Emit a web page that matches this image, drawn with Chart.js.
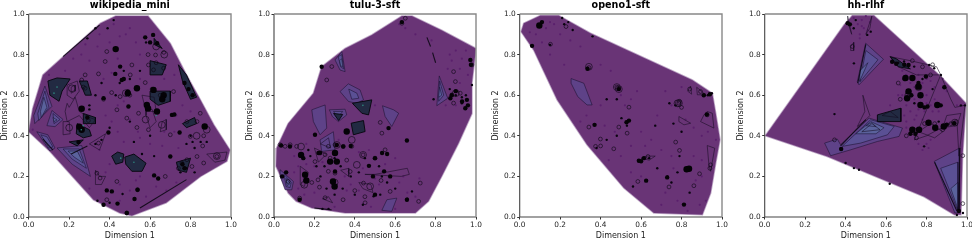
<!DOCTYPE html>
<html><head><meta charset="utf-8">
<style>html,body{margin:0;padding:0;background:#fff;width:972px;height:241px;overflow:hidden}canvas{position:absolute;top:0;filter:blur(.3px)}</style>
<script src="https://cdn.jsdelivr.net/npm/chart.js@4"></script></head>
<body>
<canvas id="c0" width="240" height="241" style="left:0px"></canvas>
<canvas id="c1" width="240" height="241" style="left:245px"></canvas>
<canvas id="c2" width="240" height="241" style="left:490.6px"></canvas>
<canvas id="c3" width="240" height="241" style="left:736px"></canvas>
<script>
const panelTitles=["wikipedia_mini","tulu-3-sft","openo1-sft","hh-rlhf"];
const tickValues=[0,0.2,0.4,0.6,0.8,1];
const xLabel="Dimension 1", yLabel="Dimension 2";

/* wikipedia_mini */
const wikiHull=[[0,.42],[.02,.535],[.07,.70],[.355,.955],[.43,.99],[.59,.99],[.70,.855],[.78,.70],[.85,.575],[.915,.455],[.995,.33],[.98,.275],[.85,.2],[.68,.07],[.51,.006],[.45,.02],[.32,.085],[.105,.323]];
const wikiLevel1=[[[.08,.645],[.025,.50],[.03,.46],[.115,.545]],[[.115,.525],[.17,.48],[.13,.445],[.09,.45]],[[.04,.42],[.095,.405],[.13,.34],[.105,.325]],[[.14,.34],[.262,.352],[.305,.2],[.215,.26]]];
const wikiLevel2=[[[.08,.62],[.045,.51],[.05,.475],[.10,.54]],[[.17,.335],[.25,.335],[.285,.24],[.215,.285]],[[.06,.405],[.09,.395],[.12,.345],[.10,.34]],[[.12,.51],[.155,.48],[.125,.46]]];
const wikiLevel3=[[[.075,.59],[.058,.52],[.062,.49],[.09,.54]],[[.195,.325],[.24,.325],[.27,.265],[.225,.295]],[[.12,.49],[.14,.478],[.125,.47]]];
const wikiDark=[[[.095,.67],[.14,.685],[.205,.68],[.165,.62],[.15,.57],[.105,.6]],[[.41,.30],[.44,.32],[.47,.31],[.465,.27],[.43,.26]],[[.475,.295],[.52,.31],[.58,.265],[.56,.225],[.51,.225],[.48,.26]],[[.24,.46],[.3,.43],[.31,.40],[.27,.39],[.235,.41]],[[.6,.62],[.7,.62],[.7,.57],[.64,.55],[.6,.58]],[[.74,.75],[.78,.7],[.83,.59],[.80,.58],[.76,.67]],[[.76,.46],[.82,.49],[.83,.46],[.78,.44]],[[.25,.67],[.29,.67],[.31,.6],[.28,.6]],[[.27,.51],[.33,.49],[.33,.46],[.27,.46]],[[.62,.88],[.66,.83],[.62,.85]],[[.6,.77],[.68,.75],[.66,.7],[.6,.7]],[[.73,.27],[.8,.29],[.78,.22],[.74,.23]],[[.2,.37],[.27,.38],[.24,.35]]];
const wikiLines=[[[.19,.56],[.2,.54],[.23,.59],[.25,.52],[.3,.49],[.33,.48],[.3,.44],[.25,.5],[.19,.47],[.18,.52]],[[.17,.47],[.2,.47],[.205,.41],[.17,.405]],[[.58,.5],[.6,.44],[.63,.47],[.61,.53],[.58,.53]],[[.66,.47],[.68,.48],[.68,.43],[.65,.42]],[[.33,.23],[.35,.2],[.38,.2],[.36,.16],[.33,.16]],[[.88,.31],[.98,.32],[.97,.28],[.92,.27]],[[.19,.65],[.24,.67],[.25,.62],[.22,.58],[.19,.6]],[[.21,.64],[.23,.65],[.23,.62],[.21,.61]],[[.3,.36],[.38,.41],[.35,.33]],[[.56,.6],[.62,.59],[.63,.52],[.58,.52]]];
const wikiEdges=[[[.17,.79],[.35,.945]],[[.55,.044],[.78,.184]],[[.07,.385],[.12,.33]],[[.21,.31],[.29,.35]]];
const wikiRings=[[.386,.815],[.51,.749],[.592,.749],[.617,.725],[.667,.733],[.668,.811],[.627,.798],[.378,.766],[.502,.7],[.279,.7],[.345,.705],[.262,.675],[.279,.634],[.41,.613],[.452,.593],[.576,.662],[.716,.618],[.436,.528],[.543,.511],[.485,.487],[.535,.441],[.592,.43],[.70,.405],[.799,.397],[.832,.47],[.782,.47],[.848,.511],[.345,.364],[.436,.175],[.675,.2],[.757,.266],[.782,.282],[.832,.298],[.807,.249],[.865,.266],[.93,.298],[.353,.192],[.337,.216],[.386,.085],[.485,.02],[.538,.134],[.865,.4],[.74,.24],[.295,.475],[.86,.35],[.61,.63],[.5,.6],[.59,.8],[.63,.76],[.37,.58],[.65,.6],[.27,.64]];
const wikiBigRings=[[.213,.634],[.658,.454],[.2,.44],[.93,.3],[.578,.48],[.63,.84],[.67,.8],[.48,.61],[.88,.43],[.83,.4]];
const wikiBlobsLarge=[[.43,.827],[.634,.52],[.584,.552],[.59,.535],[.617,.626],[.667,.60],[.66,.58],[.262,.43],[.25,.445],[.262,.533],[.87,.446],[.535,.634],[.49,.61]];
const wikiBlobsMed=[[.576,.885],[.452,.741],[.428,.705],[.46,.675],[.47,.68],[.37,.585],[.49,.618],[.493,.544],[.708,.503],[.72,.505],[.746,.416],[.394,.416],[.246,.369],[.386,.131],[.411,.126],[.538,.134],[.523,.089],[.439,.066],[.62,.205],[.64,.19],[.70,.298],[.615,.897],[.635,.856],[.485,.02],[.6,.86],[.77,.66],[.79,.63],[.81,.6],[.29,.49],[.76,.26],[.77,.24],[.37,.06]];
const wikiDots=[[.47,.72],[.5,.68],[.55,.72],[.3,.55],[.33,.6],[.43,.6],[.45,.66],[.464,.113],[.4,.07],[.34,.08],[.75,.22],[.78,.24],[.82,.22],[.6,.4],[.52,.37],[.82,.34],[.36,.66],[.8,.4],[.4,.44],[.62,.3],[.56,.31],[.3,.53],[.58,.86],[.42,.97],[.39,.93],[.33,.93],[.29,.88],[.71,.5],[.85,.37],[.88,.37],[.78,.36],[.81,.37],[.36,.38],[.33,.36],[.5,.47]];
const wikiTeal=[[.14,.64],[.125,.61],[.26,.43],[.52,.27],[.455,.29],[.63,.5],[.27,.45]];
const wikiSpecks=[[.35,.9],[.42,.95],[.45,.89],[.5,.93],[.53,.86],[.28,.85],[.22,.78],[.18,.72],[.3,.77],[.37,.68],[.44,.78],[.55,.8],[.67,.68],[.72,.7],[.7,.6],[.76,.55],[.73,.5],[.8,.52],[.48,.6],[.44,.55],[.38,.5],[.5,.48],[.44,.42],[.54,.42],[.6,.36],[.66,.35],[.74,.34],[.4,.26],[.3,.14],[.45,.16],[.58,.1],[.63,.15],[.68,.13],[.73,.17],[.02,.43],[.1,.7],[.5,.3],[.35,.33],[.48,.9],[.4,.86],[.34,.84],[.26,.8],[.41,.71],[.55,.68],[.47,.57],[.41,.47],[.47,.37],[.55,.39],[.67,.42],[.72,.42],[.53,.18],[.5,.13],[.55,.2],[.45,.08],[.38,.22]];

/* tulu-3-sft */
const tuluHull=[[.013,.34],[.01,.25],[.07,.118],[.11,.077],[.187,.044],[.352,.02],[.70,.02],[.765,.077],[.83,.2],[.914,.364],[.98,.51],[.98,.66],[1,.83],[.83,.92],[.683,.99],[.633,.99],[.484,.897],[.352,.83],[.236,.74],[.195,.61],[.07,.46]];
const tuluLevel1=[[[.327,.618],[.368,.656],[.426,.626],[.443,.577],[.41,.56],[.369,.569]],[[.187,.528],[.253,.552],[.261,.438],[.228,.405],[.195,.47]],[[.274,.528],[.352,.531],[.36,.503],[.319,.47],[.289,.495]],[[.818,.695],[.86,.585],[.806,.548]],[[.537,.548],[.592,.528],[.617,.511],[.583,.446],[.55,.495]],[[.228,.38],[.294,.42],[.302,.331],[.236,.323]],[[.559,.085],[.608,.093],[.583,.028],[.534,.033]],[[.03,.233],[.096,.175],[.088,.134],[.055,.134],[.03,.2]],[[.302,.774],[.336,.815],[.352,.716],[.327,.724]]];
const tuluLevel2=[[[.37,.63],[.41,.61],[.42,.585],[.385,.58]],[[.318,.79],[.335,.80],[.345,.73],[.33,.74]],[[.82,.67],[.84,.6],[.815,.57]],[[.05,.21],[.085,.17],[.08,.145],[.06,.15]],[[.295,.52],[.34,.52],[.315,.49]]];
const tuluLevel3=[[[.325,.77],[.335,.78],[.34,.74],[.33,.745]],[[.06,.19],[.08,.165],[.065,.155]],[[.82,.64],[.83,.6],[.815,.59]]];
const tuluDark=[[[.388,.56],[.484,.577],[.468,.503],[.435,.511]],[[.382,.462],[.443,.475],[.451,.421],[.393,.405]],[[.295,.51],[.34,.505],[.32,.475]]];
const tuluLines=[[[.45,.21],[.5,.21],[.66,.24],[.67,.21],[.63,.2]],[[.42,.17],[.48,.16],[.49,.12],[.44,.14]],[[.2,.34],[.26,.31],[.22,.27]],[[.13,.25],[.17,.22],[.15,.15],[.13,.16]],[[.33,.23],[.37,.24],[.37,.2]],[[.24,.09],[.27,.1],[.29,.07]],[[.23,.36],[.27,.39],[.28,.34]]];
const tuluEdges=[[[.2,.044],[.285,.035]],[[.757,.885],[.775,.84]],[[.785,.81],[.80,.76]]];
const tuluRings=[[.03,.356],[.055,.348],[.08,.356],[.112,.348],[.228,.315],[.261,.675],[.286,.741],[.269,.348],[.302,.356],[.344,.348],[.385,.348],[.253,.307],[.269,.225],[.302,.216],[.187,.17],[.218,.183],[.225,.147],[.253,.095],[.342,.085],[.377,.224],[.443,.167],[.575,.126],[.716,.077],[.724,.167],[.127,.093],[.526,.466],[.534,.413],[.889,.716],[.898,.667],[.922,.61],[.881,.602],[.889,.561],[.633,.954],[.65,.979],[.98,.749],[.55,.331],[.203,.273],[.36,.28],[.07,.175],[.4,.13],[.451,.07],[.53,.18],[.441,.306],[.5,.29],[.16,.18],[.3,.15],[.45,.1],[.278,.29]];
const tuluBigRings=[[.41,.257],[.15,.159],[.476,.151],[.385,.38],[.441,.306],[.311,.355],[.134,.347],[.9,.61],[.3,.17]];
const tuluBlobsLarge=[[.154,.208],[.134,.306],[.292,.175],[.30,.15],[.302,.315],[.278,.273],[.311,.273],[.36,.421],[.16,.18]];
const tuluBlobsMed=[[.203,.405],[.22,.315],[.228,.316],[.47,.252],[.49,.2],[.575,.2],[.545,.225],[.658,.377],[.658,.085],[.567,.438],[.5,.29],[.535,.315],[.56,.31],[.972,.774],[.873,.585],[.931,.569],[.955,.577],[.947,.536],[.145,.29],[.633,.96],[.236,.74],[.38,.35],[.342,.347],[.035,.352],[.079,.347],[.311,.355],[.302,.224],[.127,.085],[.5,.11],[.975,.75],[.9,.62],[.88,.6],[.96,.55],[.04,.2],[.06,.22]];
const tuluDots=[[.534,.2],[.578,.2],[.526,.11],[.493,.102],[.38,.2],[.42,.22],[.45,.29],[.52,.25],[.56,.17],[.683,.126],[.9,.6],[.87,.63],[.98,.65],[.79,.58],[.33,.25],[.3,.29],[.25,.25],[.18,.3],[.66,.09],[.6,.14],[.44,.06],[.4,.11],[.3,.11],[.26,.14],[.23,.2],[.24,.04],[.27,.04],[.17,.33],[.21,.25],[.34,.14],[.93,.56],[.95,.6],[.93,.59]];
const tuluSpecks=[[.9,.82],[.93,.78],[.95,.82],[.88,.77],[.86,.73],[.92,.66],[.96,.7],[.9,.55],[.85,.55],[.1,.3],[.1,.22],[.2,.25],[.2,.12],[.15,.11],[.3,.05],[.36,.13],[.42,.32],[.47,.33],[.5,.19],[.55,.26],[.62,.17],[.7,.1],[.72,.19],[.66,.12],[.32,.38],[.27,.4],[.16,.36],[.65,.93],[.62,.95],[.7,.9],[.47,.54],[.5,.55],[.56,.07],[.48,.05],[.38,.16],[.78,.87],[.12,.25],[.16,.26],[.24,.27],[.35,.2],[.44,.24],[.6,.29],[.64,.2],[.52,.16],[.6,.04],[.42,.13],[.12,.14],[.92,.73],[.87,.8]];

/* openo1-sft */
const openHull=[[.007,.913],[.02,.954],[.102,.992],[.193,.992],[.35,.905],[.853,.675],[.952,.61],[.969,.511],[.99,.38],[.969,.266],[.944,.118],[.903,.011],[.663,.02],[.515,.143],[.333,.356],[.185,.577],[.069,.823]];
const openLevel1=[[[.254,.682],[.317,.659],[.358,.552],[.333,.552],[.287,.593],[.254,.659]]];
const openLevel2=[];
const openLevel3=[];
const openDark=[];
const openLines=[[[.83,.62],[.845,.645],[.85,.605]],[[.875,.639],[.919,.602],[.878,.602]],[[.927,.52],[.952,.511],[.96,.438],[.894,.47],[.911,.503]],[[.927,.352],[.964,.339],[.944,.225],[.936,.249]],[[.787,.495],[.845,.462],[.812,.454],[.787,.47]],[[.6,.29],[.63,.3],[.67,.3],[.64,.28]]];
const openEdges=[];
const openRings=[[.342,.736],[.49,.634],[.787,.561],[.927,.503],[.54,.541],[.342,.443],[.49,.443],[.531,.413],[.399,.384],[.375,.348],[.465,.336],[.771,.369],[.79,.328],[.634,.298],[.584,.175],[.738,.148],[.861,.154],[.889,.213],[.944,.257],[.229,.938],[.152,.851],[.84,.63],[.894,.618],[.79,.57],[.48,.64],[.4,.35],[.8,.54],[.94,.24]];
const openBigRings=[[.342,.74],[.49,.63],[.787,.561],[.48,.64],[.78,.56]];
const openBlobsLarge=[[.097,.943],[.837,.238],[.825,.235]];
const openBlobsMed=[[.061,.843],[.37,.454],[.528,.467],[.54,.475],[.625,.179],[.589,.277],[.6,.275],[.614,.29],[.729,.195],[.812,.061],[.335,.73],[.925,.505],[.49,.63],[.11,.96],[.91,.6],[.94,.605]];
const openDots=[[.262,.921],[.503,.487],[.15,.848],[.22,.95],[.38,.34],[.43,.38],[.48,.4],[.64,.29],[.68,.24],[.73,.2],[.75,.17],[.78,.22],[.84,.12],[.43,.58],[.48,.58],[.67,.45],[.76,.46],[.8,.42],[.79,.3],[.56,.15],[.95,.61],[.93,.6],[.36,.89],[.24,.96],[.21,.98],[.74,.56],[.77,.55],[.53,.45]];
const openSpecks=[[.05,.91],[.13,.93],[.17,.95],[.25,.87],[.3,.84],[.15,.8],[.22,.75],[.4,.75],[.45,.72],[.55,.58],[.58,.62],[.4,.55],[.33,.5],[.3,.47],[.42,.45],[.47,.42],[.55,.35],[.6,.42],[.65,.38],[.7,.33],[.68,.5],[.75,.55],[.72,.62],[.8,.64],[.9,.4],[.93,.42],[.97,.38],[.86,.3],[.9,.2],[.78,.08],[.83,.03],[.89,.06],[.72,.12],[.6,.2],[.55,.22],[.5,.3],[.44,.28],[.82,.48],[.7,.06],[.08,.9],[.15,.96],[.2,.9],[.11,.86],[.5,.6],[.52,.55],[.62,.35],[.75,.3],[.9,.28],[.86,.44],[.76,.24],[.87,.18],[.92,.08]];

/* hh-rlhf */
const hhHull=[[.003,.4],[.392,.946],[.433,.992],[.54,.992],[.673,.872],[.871,.692],[.995,.56],[.978,.298],[.97,.011],[.937,.011],[.788,.1],[.309,.298]];
const hhLevel1=[[[.296,.364],[.359,.384],[.375,.356],[.516,.487],[.681,.438],[.664,.397],[.557,.372],[.425,.331],[.326,.302]],[[.499,.856],[.587,.777],[.466,.651],[.458,.667]],[[.838,.274],[.962,.339],[.962,.02],[.94,.02]]];
const hhLevel2=[[[.383,.348],[.524,.479],[.64,.446],[.607,.405],[.474,.364]],[[.5,.82],[.56,.775],[.47,.665]],[[.87,.24],[.955,.27],[.955,.03]]];
const hhLevel3=[[[.45,.41],[.525,.47],[.59,.44],[.55,.41]],[[.47,.72],[.51,.76],[.47,.67]],[[.92,.14],[.955,.17],[.955,.04]],[[.5,.45],[.53,.465],[.55,.445]]];
const hhDark=[[[.557,.503],[.673,.536],[.673,.47],[.557,.47]],[[.62,.79],[.65,.78],[.72,.73],[.66,.74]]];
const hhLines=[[[.458,.446],[.495,.52],[.485,.6],[.52,.5],[.49,.47]],[[.425,.84],[.44,.86],[.44,.82],[.425,.82]],[[.41,.99],[.43,.9],[.42,.93],[.41,.97]],[[.52,.93],[.53,.99],[.5,.9]],[[.62,.79],[.72,.77],[.85,.74],[.87,.7],[.75,.7],[.66,.74]],[[.87,.7],[.92,.58],[.94,.54],[.99,.55],[.96,.3],[.95,.48],[.8,.4],[.74,.38]],[[.9,.5],[.97,.51],[.95,.45],[.88,.44]],[[.76,.42],[.84,.39],[.88,.42],[.82,.46]],[[.48,.42],[.53,.46],[.57,.43]],[[.58,.5],[.62,.52],[.66,.49]]];
const hhEdges=[[[.95,.03],[.84,.27]],[[.96,.02],[.965,.34]],[[.375,.35],[.5,.48]],[[.46,.66],[.5,.85]]];
const hhRings=[[.433,.84],[.979,.066],[.979,.302],[.73,.77],[.78,.74],[.83,.75],[.69,.68],[.67,.58],[.84,.46],[.92,.46],[.88,.43],[.75,.39],[.66,.66],[.345,.38],[.82,.7],[.79,.46],[.7,.4]];
const hhBigRings=[[.94,.465],[.74,.42],[.76,.64],[.71,.6]];
const hhBlobsLarge=[[.711,.618],[.76,.642],[.77,.60],[.704,.585],[.696,.685],[.73,.685],[.853,.552],[.77,.552],[.81,.464],[.73,.43],[.763,.43],[.843,.44],[.885,.446]];
const hhBlobsMed=[[.421,.949],[.63,.765],[.65,.755],[.805,.544],[.888,.639],[.9,.455],[.937,.462],[.797,.692],[.378,.335],[.96,.03],[.41,.955],[.69,.75],[.711,.749],[.87,.55],[.76,.66],[.725,.6],[.79,.54],[.745,.41],[.72,.41]];
const hhDots=[[.466,.233],[.441,.241],[.4,.266],[.618,.164],[.345,.507],[.813,.749],[.838,.733],[.739,.741],[.689,.766],[.871,.7],[.788,.348],[.507,.897],[.524,.913],[.441,.757],[.83,.63],[.78,.68],[.74,.56],[.86,.47],[.66,.76],[.97,.55],[.99,.55],[.95,.01],[.98,.02],[.44,.93],[.45,.97]];
const hhSpecks=[[.46,.95],[.48,.97],[.49,.93],[.47,.9],[.52,.96],[.5,.99],[.68,.72],[.7,.7],[.72,.66],[.76,.7],[.68,.6],[.7,.55],[.66,.52],[.72,.52],[.75,.5],[.79,.52],[.82,.55],[.84,.58],[.8,.6],[.84,.64],[.72,.62],[.78,.66],[.8,.68],[.74,.48],[.7,.47],[.78,.48],[.76,.36],[.8,.36],[.81,.34],[.7,.44],[.66,.6],[.62,.55],[.88,.68],[.9,.62],[.95,.55],[.74,.58],[.8,.56],[.83,.52],[.86,.52],[.69,.5],[.76,.53],[.82,.67],[.74,.64],[.67,.65],[.48,.94],[.44,.98],[.82,.38],[.78,.33],[.47,.88],[.51,.92]];

const panels=[
 {hull:wikiHull,l1:wikiLevel1,l2:wikiLevel2,l3:wikiLevel3,dark:wikiDark,lines:wikiLines,edges:wikiEdges,rings:wikiRings,big:wikiBigRings,large:wikiBlobsLarge,med:wikiBlobsMed,dots:wikiDots,specks:wikiSpecks,teal:wikiTeal,area:28.7},
 {hull:tuluHull,l1:tuluLevel1,l2:tuluLevel2,l3:tuluLevel3,dark:tuluDark,lines:tuluLines,edges:tuluEdges,rings:tuluRings,big:tuluBigRings,large:tuluBlobsLarge,med:tuluBlobsMed,dots:tuluDots,specks:tuluSpecks,teal:[[.44,.55]],area:29},
 {hull:openHull,l1:openLevel1,l2:openLevel2,l3:openLevel3,dark:openDark,lines:openLines,edges:openEdges,rings:openRings,big:openBigRings,large:openBlobsLarge,med:openBlobsMed,dots:openDots,specks:openSpecks,teal:[],area:28.7},
 {hull:hhHull,l1:hhLevel1,l2:hhLevel2,l3:hhLevel3,dark:hhDark,lines:hhLines,edges:hhEdges,rings:hhRings,big:hhBigRings,large:hhBlobsLarge,med:hhBlobsMed,dots:hhDots,specks:hhSpecks,teal:[],area:28.7}
];

const closed=a=>a.concat([a[0]]);
function poly(pts,fill,line,w){return {data:closed(pts),showLine:true,pointRadius:0,fill:fill?'shape':false,backgroundColor:fill||'transparent',borderColor:line,borderWidth:w,tension:0};}
function pts(d,r,fill,line,w){return {data:d,showLine:false,pointRadius:r,pointBackgroundColor:fill,pointBorderColor:line,pointBorderWidth:w};}

const frame={id:'frame',afterDatasetsDraw(c){const a=c.chartArea,x=c.ctx;x.save();
 x.strokeStyle='#444';x.lineWidth=1.1;x.beginPath();x.moveTo(a.left,a.top);x.lineTo(a.left,a.bottom);x.lineTo(a.right,a.bottom);x.stroke();
 x.strokeStyle='#888';x.lineWidth=1.4;x.beginPath();x.moveTo(a.left,a.top);x.lineTo(a.right,a.top);x.lineTo(a.right,a.bottom);x.stroke();x.restore();}};

panels.forEach((p,i)=>{
 const ds=[];
 ds.push(poly(p.hull,'#693476','rgba(120,70,135,.45)',1.6));
 ds.push(pts(p.specks,1.1,'rgba(85,25,105,.75)','transparent',0));
 p.l1.forEach(s=>ds.push(poly(s,'#5e4288','rgba(20,12,40,.85)',.6)));
 p.l2.forEach(s=>ds.push(poly(s,'#5a5094','rgba(20,12,40,.85)',.6)));
 p.l3.forEach(s=>ds.push(poly(s,'#5a629c','rgba(20,12,40,.85)',.6)));
 p.dark.forEach(s=>ds.push(poly(s,'#222a42','rgba(6,6,12,.9)',1)));
 p.lines.forEach(s=>ds.push(poly(s,null,'rgba(18,10,30,.9)',.6)));
 p.edges.forEach(s=>ds.push({data:s,showLine:true,pointRadius:0,fill:false,borderColor:'rgba(12,8,20,.9)',borderWidth:1.1}));
 ds.push(pts(p.rings,1.9,'transparent','rgba(15,8,22,.9)',.7));
 ds.push(pts(p.big,3.4,'transparent','rgba(15,8,22,.9)',.7));
 ds.push(pts(p.dots,1.2,'#0a0410','#0a0410',0));
 ds.push(pts(p.med,2.2,'#060308','#060308',0));
 ds.push(pts(p.large,3.2,'#040206','#040206',0));
 ds.push(pts(p.teal,.8,'#2f8a80','#2f8a80',0));
 ds.forEach((d,k)=>{d.order=ds.length-k;});
 const tick={color:'#262626',font:{family:'DejaVu Sans',size:7.4},padding:1.5,maxRotation:0,autoSkip:false};
 const axisTitle=t=>({display:true,text:t,color:'#222',font:{family:'DejaVu Sans',size:8},padding:0});
 new Chart(document.getElementById('c'+i),{type:'scatter',data:{datasets:ds},plugins:[frame],options:{
  responsive:false,animation:false,events:[],devicePixelRatio:1,
  layout:{padding:{right:9,left:0,top:0,bottom:0}},
  plugins:{legend:{display:false},tooltip:{enabled:false},title:{display:false}},
  scales:{
   x:{type:'linear',min:0,max:1,position:'bottom',grid:{drawOnChartArea:false,drawTicks:true,tickLength:2.5,color:'#333'},border:{display:false},
      afterBuildTicks(s){s.ticks=tickValues.map(v=>({value:v}));},ticks:{...tick,callback:v=>v.toFixed(1)},title:axisTitle(xLabel),afterFit(s){s.height=24;}},
   x2:{type:'linear',axis:'x',min:0,max:1,position:'top',grid:{display:false},border:{display:false},ticks:{display:false},
      title:{display:true,text:panelTitles[i],color:'#000',font:{family:'DejaVu Sans',size:9.6,weight:'bold'},padding:0},afterFit(s){s.height=14;}},
   y:{type:'linear',min:0,max:1,position:'left',grid:{drawOnChartArea:false,drawTicks:true,tickLength:2.5,color:'#333'},border:{display:false},
      afterBuildTicks(s){s.ticks=tickValues.map(v=>({value:v}));},ticks:{...tick,callback:v=>v.toFixed(1)},title:axisTitle(yLabel),afterFit(s){s.width=p.area;}}
  }}});
});
</script></body></html>
